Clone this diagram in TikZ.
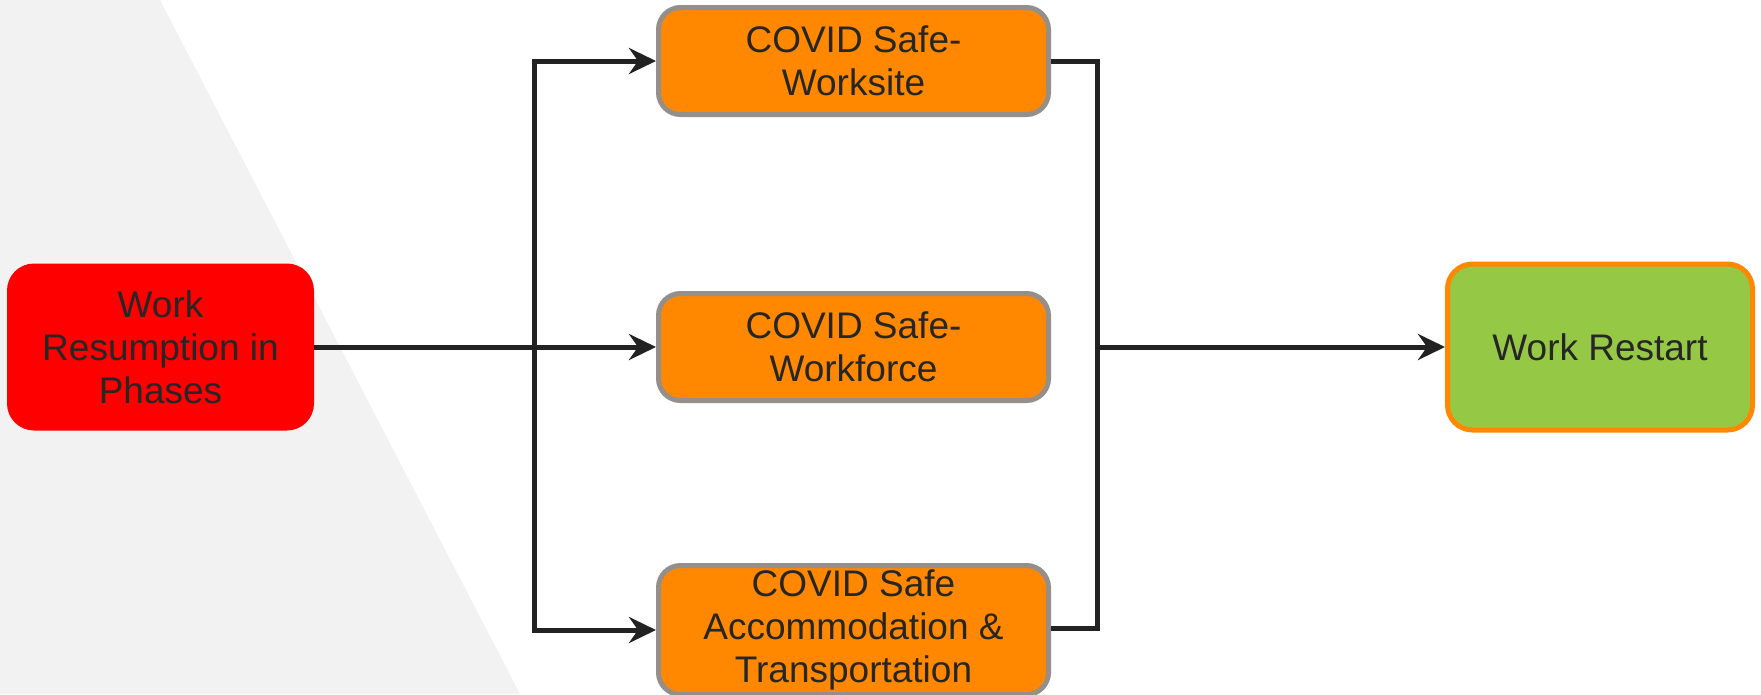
\documentclass[tikz,border=0pt]{standalone}
\usepackage{fontspec}
\setmainfont{Liberation Sans}
\usetikzlibrary{arrows.meta}
\definecolor{bggrey}{HTML}{F2F2F2}
\definecolor{txt}{HTML}{262626}
\definecolor{conncol}{HTML}{222222}
\definecolor{orangefill}{HTML}{FF8800}
\definecolor{greyborder}{HTML}{948F8A}
\definecolor{greenfill}{HTML}{95C845}
\tikzset{
  box/.style={rectangle, rounded corners=22pt, align=center, text=txt,
    font=\fontsize{37}{43}\selectfont, inner sep=0pt},
  redbox/.style={box, fill=red, minimum width=307pt, minimum height=167pt, rounded corners=27pt},
  orangebox/.style={box, fill=orangefill, draw=greyborder, line width=5pt, minimum width=390pt},
  greenbox/.style={box, fill=greenfill, draw=orangefill, line width=5pt, minimum width=305pt, minimum height=166pt, rounded corners=25pt},
  conn/.style={draw=conncol, line width=5pt, line join=miter},
  tip/.style={-{Stealth[length=27pt,width=26pt,inset=9pt]}},
}
\begin{document}
\begin{tikzpicture}[x=1pt,y=-1pt]
\useasboundingbox (0,0) rectangle (1761,694);
\fill[bggrey] (0,0) -- (160,0) -- (520,694) -- (0,694) -- cycle;

\node[redbox] (red) at (160.5,347) {Work\\Resumption in\\Phases};
\node[orangebox, minimum height=107pt] (top) at (853.5,61) {COVID Safe-\\Worksite};
\node[orangebox, minimum height=107pt] (mid) at (853.5,347) {COVID Safe-\\Workforce};
\node[orangebox, minimum height=129pt] (bot) at (853.5,630) {COVID Safe\\Accommodation \&\\Transportation};
\node[greenbox] (green) at (1600,347) {Work Restart};

\coordinate (jt) at (534,61);
\coordinate (jb) at (534,630);
\coordinate (rt) at (1097,61);
\coordinate (rb) at (1097,628);
\coordinate (rm) at (1097,347);

\draw[conn, tip] (red.east) -- (mid.west);
\draw[conn, {Stealth[length=27pt,width=26pt,inset=9pt]}-{Stealth[length=27pt,width=26pt,inset=9pt]}] (top.west) -- (jt) -- (jb) -- (bot.west);
\draw[conn] (top.east) -- (rt) -- (rb) -- (bot.east |- rb);
\draw[conn, tip] (rm) -- (green.west);
\end{tikzpicture}
\end{document}
